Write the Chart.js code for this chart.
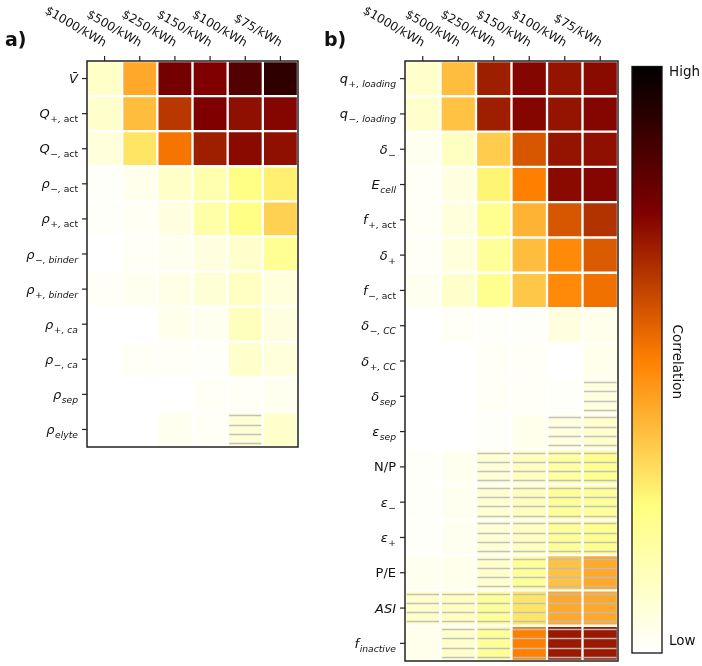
<!DOCTYPE html>
<html><head><meta charset="utf-8">
<script src="https://cdn.jsdelivr.net/npm/chart.js@4/dist/chart.umd.min.js"></script>
<style>
html,body{margin:0;padding:0;background:#fff;width:702px;height:666px;overflow:hidden}
canvas{position:absolute;top:0}
</style></head><body>
<canvas id="ca" width="310" height="666" style="left:0;width:310px;height:666px"></canvas>
<canvas id="cb" width="320" height="666" style="left:310px;width:320px;height:666px"></canvas>
<canvas id="cc" width="72" height="666" style="left:630px;width:72px;height:666px"></canvas>
<script>
// ---- data ----
const costLabels = ['$1000/kWh', '$500/kWh', '$250/kWh', '$150/kWh', '$100/kWh', '$75/kWh'];

const rowLabelsA = ['V\u0304', 'Q_{+, act}', 'Q_{\u2212, act}', '\u03c1_{\u2212, act}', '\u03c1_{+, act}',
  '\u03c1_{\u2212, binder}', '\u03c1_{+, binder}', '\u03c1_{+, ca}', '\u03c1_{\u2212, ca}', '\u03c1_{sep}', '\u03c1_{elyte}'];
const valuesA = [
  [0.11, 0.42, 0.77, 0.75, 0.84, 0.91],
  [0.10, 0.38, 0.64, 0.75, 0.72, 0.74],
  [0.07, 0.30, 0.52, 0.69, 0.73, 0.72],
  [0.01, 0.04, 0.11, 0.16, 0.24, 0.28],
  [0.01, 0.02, 0.06, 0.17, 0.24, 0.34],
  [0.00, 0.02, 0.03, 0.06, 0.10, 0.21],
  [0.02, 0.03, 0.05, 0.08, 0.12, 0.07],
  [0.00, 0.00, 0.04, 0.03, 0.13, 0.06],
  [0.00, 0.02, 0.02, 0.01, 0.10, 0.07],
  [0.00, 0.00, 0.00, 0.02, 0.02, 0.03],
  [0.00, 0.00, 0.03, 0.02, 0.08, 0.10]
];
const hatchA = [
  [0,0,0,0,0,0],[0,0,0,0,0,0],[0,0,0,0,0,0],[0,0,0,0,0,0],[0,0,0,0,0,0],[0,0,0,0,0,0],
  [0,0,0,0,0,0],[0,0,0,0,0,0],[0,0,0,0,0,0],[0,0,0,0,0,0],[0,0,0,0,1,0]
];

const rowLabelsB = ['q_{+, loading}', 'q_{\u2212, loading}', '\u03b4_{\u2212}', 'E_{cell}', 'f_{+, act}', '\u03b4_{+}',
  'f_{\u2212, act}', '\u03b4_{\u2212, CC}', '\u03b4_{+, CC}', '\u03b4_{sep}', '\u03b5_{sep}', 'N/P', '\u03b5_{\u2212}',
  '\u03b5_{+}', 'P/E', 'ASI', 'f_{inactive}'];
const valuesB = [
  [0.10, 0.38, 0.69, 0.74, 0.71, 0.73],
  [0.10, 0.37, 0.69, 0.74, 0.71, 0.74],
  [0.03, 0.12, 0.35, 0.58, 0.71, 0.72],
  [0.02, 0.06, 0.27, 0.50, 0.73, 0.74],
  [0.02, 0.07, 0.22, 0.40, 0.58, 0.65],
  [0.02, 0.07, 0.20, 0.38, 0.48, 0.57],
  [0.03, 0.10, 0.22, 0.36, 0.48, 0.53],
  [0.00, 0.02, 0.01, 0.01, 0.06, 0.04],
  [0.00, 0.00, 0.02, 0.02, 0.00, 0.04],
  [0.00, 0.00, 0.02, 0.02, 0.01, 0.06],
  [0.00, 0.00, 0.01, 0.04, 0.06, 0.10],
  [0.01, 0.03, 0.08, 0.12, 0.18, 0.22],
  [0.01, 0.03, 0.09, 0.13, 0.20, 0.20],
  [0.01, 0.03, 0.08, 0.12, 0.20, 0.22],
  [0.03, 0.04, 0.10, 0.20, 0.37, 0.42],
  [0.10, 0.12, 0.20, 0.30, 0.42, 0.42],
  [0.04, 0.10, 0.20, 0.50, 0.70, 0.70]
];
const hatchB = [
  [0,0,0,0,0,0],[0,0,0,0,0,0],[0,0,0,0,0,0],[0,0,0,0,0,0],[0,0,0,0,0,0],[0,0,0,0,0,0],
  [0,0,0,0,0,0],[0,0,0,0,0,0],[0,0,0,0,0,0],[0,0,0,0,0,1],[0,0,0,0,1,1],[0,0,1,1,1,1],
  [0,0,1,1,1,1],[0,0,1,1,1,1],[0,0,1,1,1,1],[1,1,1,1,1,1],[0,1,1,1,1,1]
];
const colorbarTickValues = [0.99, 0.02];
const colorbarTickLabels = ['High', 'Low'];
const colorbarTitle = 'Correlation';

// ---- helpers ----
const FONT = '"DejaVu Sans", sans-serif';
function clamp(x){ return Math.max(0, Math.min(1, x)); }
function cmap(v){ // afmhot reversed
  const t = 1 - v;
  const r = clamp(2*t), g = clamp(2*t - 0.5), b = clamp(2*t - 1);
  return `rgb(${Math.round(r*255)},${Math.round(g*255)},${Math.round(b*255)})`;
}
function parseLabel(s){
  const i = s.indexOf('_{');
  if (i < 0) return {main: s, sub: ''};
  return {main: s.slice(0, i), sub: s.slice(i+2, s.length-1)};
}
const uprightMain = ['N/P', 'P/E'];
function drawRowLabel(ctx, s, rightX, y){
  const {main, sub} = parseLabel(s);
  const upright = uprightMain.includes(main);
  const mainFont = (upright ? '' : 'italic ') + '13px ' + FONT;
  const subUpright = sub.endsWith('act');
  let subPre = sub, subPost = '';
  if (subUpright) { subPre = sub.slice(0, sub.length-3); subPost = 'act'; }
  const subFontI = 'italic 9.2px ' + FONT;
  const subFontU = '9.2px ' + FONT;
  ctx.font = mainFont; const wm = ctx.measureText(main).width;
  ctx.font = subFontI; const ws1 = sub ? ctx.measureText(subPre).width : 0;
  ctx.font = subFontU; const ws2 = subPost ? ctx.measureText(subPost).width : 0;
  let x = rightX - wm - ws1 - ws2 - (sub ? 0.5 : 0);
  ctx.textAlign = 'left'; ctx.textBaseline = 'alphabetic'; ctx.fillStyle = '#111';
  ctx.font = mainFont; ctx.fillText(main, x, y + 4.5); x += wm + (sub ? 0.5 : 0);
  if (sub) {
    ctx.font = subFontI; ctx.fillText(subPre, x, y + 8.5); x += ws1;
    if (subPost) { ctx.font = subFontU; ctx.fillText(subPost, x, y + 8.5); }
  }
}

const heatAxesPlugin = {
  id: 'heatAxes',
  afterDatasetsDraw(chart, args, opts){
    const ctx = chart.ctx;
    const hatch = opts.hatch;
    ctx.save();
    ctx.strokeStyle = 'rgba(190,190,190,0.95)';
    ctx.lineWidth = 1.3;
    hatch.forEach((row, r) => {
      const meta = chart.getDatasetMeta(r);
      row.forEach((h, j) => {
        if (!h) return;
        const el = meta.data[j];
        const p = el.getProps(['x','y','base','width'], true);
        const top = Math.min(p.y, p.base), bot = Math.max(p.y, p.base);
        const hh = bot - top;
        const l = p.x - p.width/2 + 1.5, rr = p.x + p.width/2 - 1.5;
        [0.1, 0.36, 0.62, 0.88].forEach(f => {
          const yy = Math.round(top + f*hh) + 0.5;
          ctx.beginPath(); ctx.moveTo(l, yy); ctx.lineTo(rr, yy); ctx.stroke();
        });
      });
    });
    ctx.restore();
  },
  afterDraw(chart, args, opts){
    const ctx = chart.ctx;
    const ca = chart.chartArea;
    const xs = chart.scales.x, ys = chart.scales.y;
    ctx.save();
    // frame
    ctx.strokeStyle = '#222'; ctx.lineWidth = 1.5;
    ctx.strokeRect(ca.left, ca.top, ca.right - ca.left, ca.bottom - ca.top);
    // y ticks + labels
    ctx.lineWidth = 1.2;
    opts.rowLabels.forEach((lab, r) => {
      const y = ys.getPixelForValue(r + 0.5);
      ctx.beginPath(); ctx.moveTo(ca.left - 5, y); ctx.lineTo(ca.left, y); ctx.stroke();
      drawRowLabel(ctx, lab, ca.left - 9, y);
    });
    // x ticks + rotated labels
    costLabels.forEach((lab, j) => {
      const x = xs.getPixelForValue(j);
      ctx.beginPath(); ctx.moveTo(x, ca.top - 5); ctx.lineTo(x, ca.top); ctx.stroke();
      ctx.save();
      ctx.translate(x - 1, ca.top - 14);
      ctx.rotate(Math.PI / 6);
      ctx.font = '12px ' + FONT; ctx.fillStyle = '#111';
      ctx.textAlign = 'right'; ctx.textBaseline = 'alphabetic';
      ctx.fillText(lab, 0, 0);
      ctx.restore();
    });
    // panel letter
    ctx.font = 'bold 19px ' + FONT; ctx.fillStyle = '#111';
    ctx.textAlign = 'left'; ctx.textBaseline = 'alphabetic';
    ctx.fillText(opts.letter, opts.letterX, 46);
    ctx.restore();
  }
};

function makeHeat(id, rowLabels, values, hatch, padding, letter, letterX){
  const datasets = values.map((row, r) => ({
    label: rowLabels[r],
    data: row.map(() => [r, r + 1]),
    backgroundColor: row.map(cmap),
    borderColor: '#ffffff',
    borderWidth: 1.5,
    borderSkipped: false,
    grouped: false,
    barPercentage: 1,
    categoryPercentage: 1
  }));
  return new Chart(document.getElementById(id), {
    type: 'bar',
    data: {labels: costLabels, datasets},
    options: {
      responsive: false, animation: false, devicePixelRatio: 1,
      layout: {padding},
      plugins: {legend: {display: false}, tooltip: {enabled: false},
        heatAxes: {rowLabels, hatch, letter, letterX}},
      scales: {
        x: {type: 'category', display: false, offset: true},
        y: {type: 'linear', display: false, min: 0, max: rowLabels.length, reverse: true}
      }
    },
    plugins: [heatAxesPlugin]
  });
}

makeHeat('ca', rowLabelsA, valuesA, hatchA, {left: 87, top: 61, right: 12, bottom: 219}, 'a)', 5);
makeHeat('cb', rowLabelsB, valuesB, hatchB, {left: 95, top: 61, right: 12, bottom: 5}, 'b)', 14);

// ---- colorbar ----
const colorbarPlugin = {
  id: 'cbarDeco',
  afterDraw(chart){
    const ctx = chart.ctx, ca = chart.chartArea, ys = chart.scales.y;
    ctx.save();
    ctx.strokeStyle = '#111'; ctx.lineWidth = 1.3;
    ctx.strokeRect(ca.left, ca.top, ca.right - ca.left, ca.bottom - ca.top);
    ctx.font = '13.5px ' + FONT; ctx.fillStyle = '#111';
    ctx.textAlign = 'left'; ctx.textBaseline = 'middle';
    colorbarTickValues.forEach((v, i) => {
      ctx.fillText(colorbarTickLabels[i], ca.right + 7, ys.getPixelForValue(v));
    });
    ctx.translate(ca.right + 14, (ca.top + ca.bottom) / 2 + 2);
    ctx.rotate(Math.PI / 2);
    ctx.textAlign = 'center'; ctx.textBaseline = 'middle';
    ctx.fillText(colorbarTitle, 0, 0);
    ctx.restore();
  }
};
new Chart(document.getElementById('cc'), {
  type: 'bar',
  data: {labels: ['c'], datasets: [{
    data: [[0, 1]],
    backgroundColor: (c) => {
      const ca = c.chart.chartArea;
      if (!ca) return '#fff';
      const g = c.chart.ctx.createLinearGradient(0, ca.bottom, 0, ca.top);
      for (let k = 0; k <= 40; k++) g.addColorStop(k/40, cmap(k/40));
      return g;
    },
    borderWidth: 0, barPercentage: 1, categoryPercentage: 1
  }]},
  options: {
    responsive: false, animation: false, devicePixelRatio: 1,
    layout: {padding: {left: 2, top: 66.5, right: 40, bottom: 13}},
    plugins: {legend: {display: false}, tooltip: {enabled: false}},
    scales: {
      x: {type: 'category', display: false, offset: true},
      y: {type: 'linear', display: false, min: 0, max: 1}
    }
  },
  plugins: [colorbarPlugin]
});
</script>
</body></html>
